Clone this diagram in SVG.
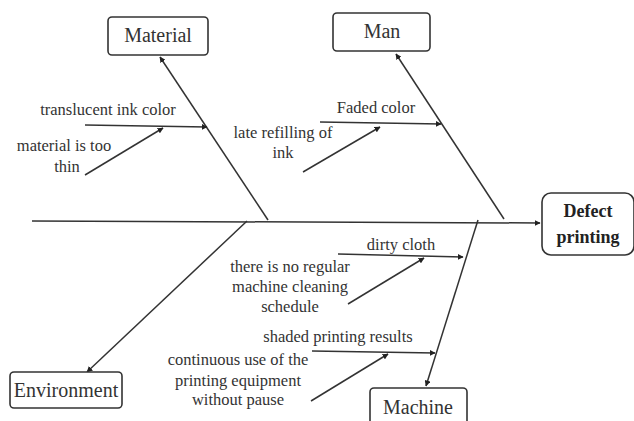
<svg xmlns="http://www.w3.org/2000/svg" width="634" height="421" viewBox="0 0 634 421">
<style>
.box{fill:#fff;stroke:#333;stroke-width:1.6}
.t{font-family:"Liberation Serif","Times New Roman",serif;fill:#333;text-anchor:middle}
.s{font-size:16.5px}
.b{font-size:20px}
.bold{font-size:18px;font-weight:bold;fill:#222}
.ln{stroke:#333;stroke-width:1.5;fill:none}
</style>
<defs>
<marker id="ah" viewBox="0 0 10 10" refX="9" refY="5" markerWidth="6" markerHeight="6" orient="auto" markerUnits="userSpaceOnUse">
<path d="M0,0 L10,5 L0,10 z" fill="#222"/>
</marker>
</defs>
<rect width="634" height="421" fill="#fff"/>
<g id="connectors">
<line class="ln" x1="32" y1="221" x2="540" y2="223" marker-end="url(#ah)"/>
<line class="ln" x1="268" y1="220" x2="160" y2="57" marker-end="url(#ah)"/>
<line class="ln" x1="504" y1="219" x2="396" y2="54" marker-end="url(#ah)"/>
<line class="ln" x1="247" y1="221" x2="87" y2="372" marker-end="url(#ah)"/>
<line class="ln" x1="478" y1="220" x2="426" y2="386" marker-end="url(#ah)"/>
<line class="ln" x1="85" y1="125" x2="207" y2="127" marker-end="url(#ah)"/>
<line class="ln" x1="85" y1="175" x2="163" y2="128" marker-end="url(#ah)"/>
<line class="ln" x1="320" y1="122" x2="441" y2="124" marker-end="url(#ah)"/>
<line class="ln" x1="303" y1="172" x2="380" y2="127" marker-end="url(#ah)"/>
<line class="ln" x1="338" y1="254" x2="463" y2="257" marker-end="url(#ah)"/>
<line class="ln" x1="348" y1="304" x2="424" y2="258" marker-end="url(#ah)"/>
<line class="ln" x1="312" y1="351" x2="435" y2="353" marker-end="url(#ah)"/>
<line class="ln" x1="311" y1="401" x2="388" y2="354" marker-end="url(#ah)"/>
</g>
<g id="material">
<rect class="box" x="108" y="17" width="100" height="38" rx="4"/>
<text class="t b" x="158" y="42">Material</text>
</g>
<g id="man">
<rect class="box" x="333" y="13" width="97" height="38" rx="4"/>
<text class="t b" x="382" y="38">Man</text>
</g>
<g id="environment">
<rect class="box" x="10" y="372" width="112" height="36" rx="4"/>
<text class="t b" x="66" y="397">Environment</text>
</g>
<g id="machine">
<rect class="box" x="370" y="388" width="97" height="40" rx="4"/>
<text class="t b" x="418" y="414">Machine</text>
</g>
<g id="defect">
<rect class="box" x="542" y="193" width="92" height="62" rx="9"/>
<text class="t bold" x="588" y="217">Defect</text>
<text class="t bold" x="588" y="243">printing</text>
</g>
<g id="cause-translucent">
<text class="t s" x="108" y="115">translucent ink color</text>
</g>
<g id="cause-thin">
<text class="t s" x="64" y="151">material is too</text>
<text class="t s" x="67" y="172">thin</text>
</g>
<g id="cause-faded">
<text class="t s" x="376" y="113">Faded color</text>
</g>
<g id="cause-refilling">
<text class="t s" x="283" y="138">late refilling of</text>
<text class="t s" x="283" y="158">ink</text>
</g>
<g id="cause-dirty">
<text class="t s" x="401" y="250">dirty cloth</text>
</g>
<g id="cause-schedule">
<text class="t s" x="290" y="272">there is no regular</text>
<text class="t s" x="290" y="292">machine cleaning</text>
<text class="t s" x="290" y="312">schedule</text>
</g>
<g id="cause-shaded">
<text class="t s" x="338" y="342">shaded printing results</text>
</g>
<g id="cause-continuous">
<text class="t s" x="238" y="365">continuous use of the</text>
<text class="t s" x="238" y="386">printing equipment</text>
<text class="t s" x="238" y="405">without pause</text>
</g>
</svg>
